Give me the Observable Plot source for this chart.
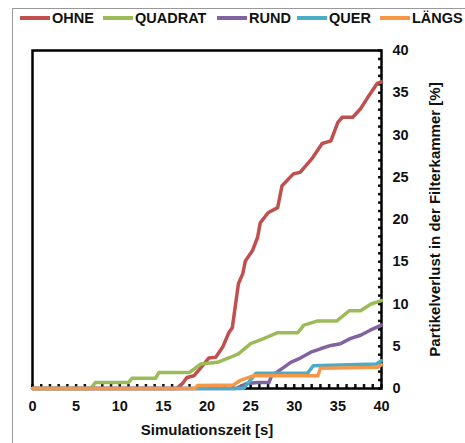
<!DOCTYPE html>
<html><head><meta charset="utf-8">
<script src="https://cdn.jsdelivr.net/npm/d3@7"></script>
<script src="https://cdn.jsdelivr.net/npm/@observablehq/plot@0.6"></script>
<style>
body{margin:0;background:#fff;width:465px;height:443px;overflow:hidden;position:relative;font-family:"Liberation Sans",Arial,sans-serif;}
#border{position:absolute;left:12px;top:8px;width:460px;height:450px;border:1px solid #999;}
#legend{position:absolute;left:0;top:0;height:36px;width:465px;}
.item{position:absolute;top:10px;display:flex;align-items:center;font-weight:bold;font-size:14.5px;color:#111;}
.sw{width:30px;height:4px;margin-right:2px;}
#chart{position:absolute;left:0;top:36px;}
</style></head>
<body>
<div id="border"></div>
<div id="legend"></div>
<div id="chart"></div>
<script>
const seriesNames = ["OHNE","QUADRAT","RUND","QUER","LÄNGS"];
const seriesColors = ["#c0504d","#9bbb59","#8064a2","#4bacc6","#f79646"];
const legendX = [20,103,217,297,380];

const ohneT = [0,16.5,17.2,17.7,18.5,19.5,20.2,21,21.8,22.5,22.9,23.6,24.1,24.4,25.2,25.8,26.1,27,28.1,28.6,29.9,30.7,32.1,33.2,34.2,35,35.5,36.7,37.6,38.4,39.5,40];
const ohneV = [0,0,0.6,1.3,1.5,2.7,3.6,3.7,4.9,6.6,7.2,12.4,13.6,15.1,16.3,17.9,19.6,20.8,21.4,24,25.4,25.6,27.3,29,29.3,31.5,32.1,32.1,33.1,34.4,36.1,36.3];
const quadT = [0,6.7,7.2,11,11.4,14.1,14.5,18,19.3,21.2,22.7,23.6,25,26.5,28.1,30.4,31.1,32.7,34.9,36.3,37.6,38.8,40];
const quadV = [0,0,0.7,0.7,1.2,1.2,1.9,1.9,2.9,3.1,3.7,4.1,5.3,5.9,6.6,6.6,7.5,8.0,8.0,9.2,9.2,10,10.4];
const rundT = [0,23.3,24.6,25.8,27.1,27.4,28.8,29.6,30.7,31.9,33,34.2,35.3,36.4,37.6,38.7,40];
const rundV = [0,0,0.6,0.7,0.7,1.5,2.5,3.1,3.6,4.3,4.7,5.1,5.3,5.9,6.3,6.9,7.5];
const querT = [0,24.2,25.6,31.5,32.2,39.4,40];
const querV = [0,0,1.8,1.8,2.7,2.9,3.3];
const laengsT = [0,18.6,18.9,23,23.8,25.3,32.7,33,39.5,40];
const laengsV = [0,0,0.35,0.4,0.95,1.5,1.5,2.4,2.5,2.8];

const xMajor = [0,5,10,15,20,25,30,35,40];
const yMajor = [0,5,10,15,20,25,30,35,40];

const allT = [ohneT,quadT,rundT,querT,laengsT];
const allV = [ohneV,quadV,rundV,querV,laengsV];
const rows = [];
seriesNames.forEach((s,i)=>allT[i].forEach((t,j)=>rows.push({series:s,t,v:allV[i][j]})));

const leg = document.getElementById("legend");
seriesNames.forEach((s,i)=>{
  const d=document.createElement("div");d.className="item";d.style.left=legendX[i]+"px";
  d.innerHTML=`<span class="sw" style="background:${seriesColors[i]}"></span><span>${s}</span>`;
  leg.appendChild(d);
});

const chart = Plot.plot({
  width:465, height:407,
  marginTop:14, marginBottom:55, marginLeft:32, marginRight:84,
  style:{fontFamily:"'Liberation Sans',Arial,sans-serif",fontWeight:"bold",fontSize:"14px",color:"#111"},
  x:{domain:[0,40]},
  y:{domain:[0,40]},
  color:{domain:seriesNames, range:seriesColors},
  marks:[
    Plot.axisX(d3.range(0,41,1),{tickSize:-4,strokeWidth:2.5,tickFormat:()=>"",label:null}),
    Plot.axisY(d3.range(0,41,1),{anchor:"right",tickSize:-4,strokeWidth:2.5,tickFormat:()=>"",label:null}),
    Plot.axisX(xMajor,{tickSize:0,tickPadding:12,fontSize:14.5,label:null}),
    Plot.axisY(yMajor,{anchor:"right",tickSize:0,tickPadding:11,fontSize:14.5,label:null}),
    Plot.axisX(xMajor,{tickSize:0,tickFormat:()=>"",fontSize:15,label:"Simulationszeit [s]",labelAnchor:"center",labelArrow:"none",labelOffset:46}),
    Plot.axisY(yMajor,{anchor:"right",tickSize:0,tickFormat:()=>"",fontSize:15,label:"Partikelverlust in der Filterkammer [%]",labelAnchor:"center",labelArrow:"none",labelOffset:58}),
    Plot.frame({stroke:"black",strokeWidth:2.5}),
    Plot.line(rows,{x:"t",y:"v",z:"series",stroke:"series",strokeWidth:3.5,curve:"linear"})
  ]
});
document.getElementById("chart").appendChild(chart);
</script>
</body></html>
